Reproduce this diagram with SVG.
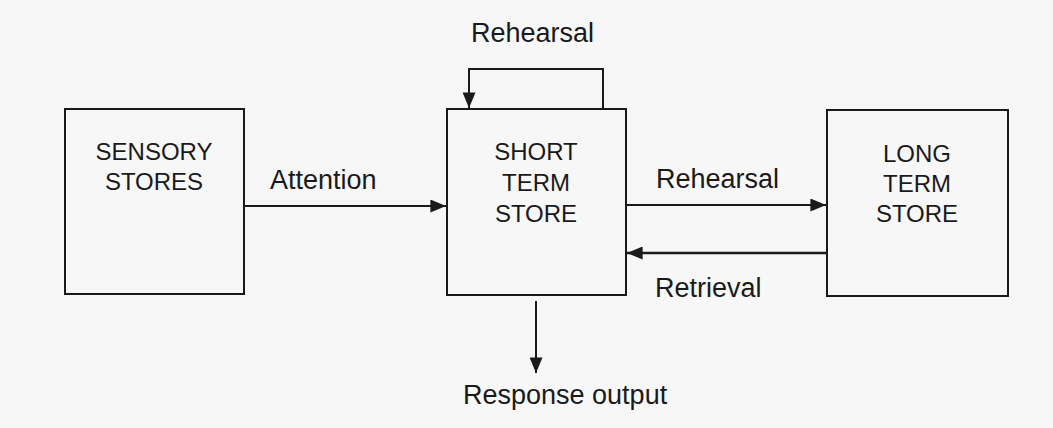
<svg xmlns="http://www.w3.org/2000/svg" width="1053" height="428" viewBox="0 0 1053 428">
<style>
.box{fill:none;stroke:#1a1a1a;stroke-width:2}
.ln{fill:none;stroke:#1a1a1a;stroke-width:2}
.bt{font-family:"Liberation Sans",Arial,sans-serif;font-size:24px;fill:#1a1a1a;text-anchor:middle}
.lb{font-family:"Liberation Sans",Arial,sans-serif;font-size:27px;fill:#1a1a1a}
</style>
<defs>
<marker id="ahb" viewBox="0 0 12 10" refX="12" refY="5" markerWidth="16" markerHeight="13" markerUnits="userSpaceOnUse" orient="auto">
<path d="M0,0 L12,5 L0,10 Z" fill="#1a1a1a"/>
</marker>
</defs>
<rect width="1053" height="428" fill="#f7f7f7"/>
<g id="sensory">
<rect class="box" x="65" y="109" width="179" height="185"/>
<text class="bt" x="154" y="160">SENSORY</text>
<text class="bt" x="154" y="190">STORES</text>
</g>
<g id="short-term">
<rect class="box" x="447" y="109" width="179" height="186"/>
<text class="bt" x="536" y="160">SHORT</text>
<text class="bt" x="536" y="191">TERM</text>
<text class="bt" x="536" y="222">STORE</text>
</g>
<g id="long-term">
<rect class="box" x="827" y="110" width="181" height="186"/>
<text class="bt" x="917" y="162">LONG</text>
<text class="bt" x="917" y="192">TERM</text>
<text class="bt" x="917" y="222">STORE</text>
</g>
<g id="connectors">
<line class="ln" x1="244" y1="206" x2="446" y2="206" marker-end="url(#ahb)"/>
<polyline class="ln" points="603,109 603,69 469,69 469,108" marker-end="url(#ahb)"/>
<line class="ln" x1="626" y1="205" x2="826" y2="205" marker-end="url(#ahb)"/>
<line class="ln" x1="827" y1="253" x2="627" y2="253" style="stroke-width:2.5" marker-end="url(#ahb)"/>
<line class="ln" x1="536" y1="301" x2="536" y2="373" marker-end="url(#ahb)"/>
</g>
<g id="labels">
<text class="lb" x="270" y="189">Attention</text>
<text class="lb" x="471" y="42">Rehearsal</text>
<text class="lb" x="656" y="188">Rehearsal</text>
<text class="lb" x="655" y="297">Retrieval</text>
<text class="lb" x="463" y="404">Response output</text>
</g>
</svg>
